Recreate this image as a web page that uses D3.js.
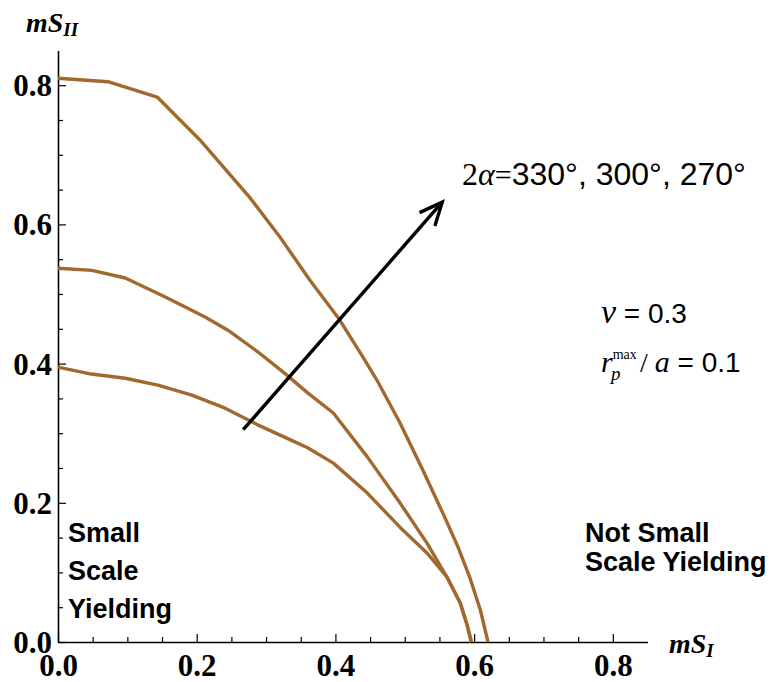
<!DOCTYPE html>
<html><head><meta charset="utf-8">
<script src="https://cdn.jsdelivr.net/npm/d3@7"></script>
<style>body{margin:0;background:#fff}</style>
</head><body>
<svg id="c" width="777" height="682"></svg>
<script>
// ---- data ----
const seriesNames = ["270°", "300°", "330°"];
const outerX = [0, 0.072, 0.143, 0.205, 0.277, 0.320, 0.363, 0.404, 0.440, 0.460, 0.493, 0.526, 0.555, 0.577, 0.594, 0.609, 0.620];
const outerY = [0.810, 0.805, 0.783, 0.721, 0.638, 0.582, 0.520, 0.466, 0.409, 0.376, 0.315, 0.247, 0.185, 0.136, 0.092, 0.046, 0];
const middleX = [0, 0.049, 0.097, 0.154, 0.212, 0.245, 0.288, 0.327, 0.360, 0.397, 0.446, 0.493, 0.532, 0.561, 0.580, 0.590, 0.596];
const middleY = [0.537, 0.534, 0.523, 0.496, 0.467, 0.448, 0.417, 0.386, 0.358, 0.329, 0.266, 0.200, 0.142, 0.093, 0.056, 0.024, 0];
const innerX = [0, 0.048, 0.097, 0.144, 0.192, 0.241, 0.288, 0.336, 0.360, 0.397, 0.446, 0.493, 0.532, 0.561, 0.580, 0.590, 0.596];
const innerY = [0.395, 0.385, 0.379, 0.369, 0.355, 0.336, 0.312, 0.290, 0.279, 0.257, 0.214, 0.165, 0.128, 0.093, 0.056, 0.024, 0];
const xMajorTicks = [0, 0.2, 0.4, 0.6, 0.8];
const yMajorTicks = [0, 0.2, 0.4, 0.6, 0.8];
const minorTicks = [0.05, 0.1, 0.15, 0.25, 0.3, 0.35, 0.45, 0.5, 0.55, 0.65, 0.7, 0.75];
const arrowFrom = [0.267, 0.305];
const arrowTo = [0.554, 0.632];

// ---- layout ----
const svg = d3.select("#c");
const x = d3.scaleLinear().domain([0, 0.85]).range([58, 647.5]);
const y = d3.scaleLinear().domain([0, 0.85]).range([642, 50.4]);
const fmt = d3.format(".1f");
const serif = "'Liberation Serif','Times New Roman',serif";
const sans = "'Liberation Sans',Arial,sans-serif";

// axes
svg.append("g").attr("transform", `translate(0,${y(0)})`)
  .call(d3.axisBottom(x).tickValues(xMajorTicks).tickFormat(fmt).tickSizeInner(-8).tickSizeOuter(0).tickPadding(12));
svg.append("g").attr("transform", `translate(0,${y(0)})`)
  .call(d3.axisBottom(x).tickValues(minorTicks).tickFormat("").tickSizeInner(-5).tickSizeOuter(0))
  .select(".domain").remove();
const gy = svg.append("g").attr("transform", `translate(${x(0)},0)`)
  .call(d3.axisLeft(y).tickValues(yMajorTicks).tickFormat(fmt).tickSizeInner(-8).tickSizeOuter(0).tickPadding(6));
svg.append("g").attr("transform", `translate(${x(0)},0)`)
  .call(d3.axisLeft(y).tickValues(minorTicks).tickFormat("").tickSizeInner(-5).tickSizeOuter(0))
  .select(".domain").remove();
svg.selectAll(".domain").attr("stroke", "#000").attr("stroke-width", 1.6);
svg.selectAll(".tick line").attr("stroke", "#000").attr("stroke-width", 1.2);
svg.selectAll(".tick text").attr("font-family", serif).attr("font-weight", "bold")
  .attr("font-size", 31).attr("fill", "#000");
gy.selectAll(".tick text").attr("dy", "0.34em");

// curves
const line = d3.line().x(d => x(d[0])).y(d => y(d[1]));
const curves = [
  d3.zip(outerX, outerY),
  d3.zip(middleX, middleY),
  d3.zip(innerX, innerY)
];
svg.append("g").selectAll("path").data(curves).join("path")
  .attr("d", line).attr("fill", "none").attr("stroke", "#A2692F")
  .attr("stroke-width", 3.4).attr("stroke-linejoin", "round");

// arrow
const ax0 = x(arrowFrom[0]), ay0 = y(arrowFrom[1]), ax1 = x(arrowTo[0]), ay1 = y(arrowTo[1]);
svg.append("line").attr("x1", ax0).attr("y1", ay0).attr("x2", ax1).attr("y2", ay1)
  .attr("stroke", "#000").attr("stroke-width", 3.4);
const ang = Math.atan2(ay1 - ay0, ax1 - ax0), hl = 25, ha = 0.42;
const hp = [[ax1 - hl * Math.cos(ang - ha), ay1 - hl * Math.sin(ang - ha)], [ax1, ay1], [ax1 - hl * Math.cos(ang + ha), ay1 - hl * Math.sin(ang + ha)]];
svg.append("path").attr("d", d3.line()(hp)).attr("fill", "none").attr("stroke", "#000")
  .attr("stroke-width", 3.4).attr("stroke-linejoin", "miter");

// axis labels
const yl = svg.append("text").attr("x", 26).attr("y", 32).attr("font-family", serif)
  .attr("font-weight", "bold").attr("font-style", "italic").attr("font-size", 28);
yl.append("tspan").text("mS");
yl.append("tspan").attr("font-size", 19).attr("dy", 4).text("II");
const xl = svg.append("text").attr("x", 669).attr("y", 653).attr("font-family", serif)
  .attr("font-weight", "bold").attr("font-style", "italic").attr("font-size", 28);
xl.append("tspan").text("mS");
xl.append("tspan").attr("font-size", 19).attr("dy", 4).text("I");

// 2alpha annotation
const t1 = svg.append("text").attr("x", 462).attr("y", 185);
t1.append("tspan").attr("font-family", serif).attr("font-size", 32).text("2");
t1.append("tspan").attr("font-family", serif).attr("font-style", "italic").attr("font-size", 32).text("α");
t1.append("tspan").attr("font-family", serif).attr("font-size", 30).text("=");
t1.append("tspan").attr("font-family", sans).attr("font-size", 32).text(seriesNames.slice().reverse().join(", "));

// nu
const t2 = svg.append("text").attr("x", 601).attr("y", 323);
t2.append("tspan").attr("font-family", serif).attr("font-style", "italic").attr("font-size", 34).text("ν");
t2.append("tspan").attr("font-family", sans).attr("font-size", 28).text(" = 0.3");
// rp/a
const t3 = svg.append("text").attr("x", 601).attr("y", 372);
t3.append("tspan").attr("font-family", serif).attr("font-style", "italic").attr("font-size", 30).text("r");
t3.append("tspan").attr("font-family", serif).attr("font-size", 14).attr("dy", -13).text("max");
t3.append("tspan").attr("font-family", serif).attr("font-style", "italic").attr("font-size", 19)
  .attr("x", 611).attr("dy", 21).text("p");
t3.append("tspan").attr("font-family", serif).attr("font-size", 28).attr("x", 640).attr("dy", -8).text("/ ");
t3.append("tspan").attr("font-family", serif).attr("font-style", "italic").attr("font-size", 30).text("a");
t3.append("tspan").attr("font-family", sans).attr("font-size", 28).text(" = 0.1");

// region labels
const bold = (tx, ty, s) => svg.append("text").attr("x", tx).attr("y", ty).attr("font-family", sans)
  .attr("font-weight", "bold").attr("font-size", 27).attr("fill", "#000").text(s);
bold(68, 542, "Small");
bold(68, 580, "Scale");
bold(68, 618, "Yielding");
bold(585, 542, "Not Small");
bold(585, 571, "Scale Yielding");
</script>
</body></html>
